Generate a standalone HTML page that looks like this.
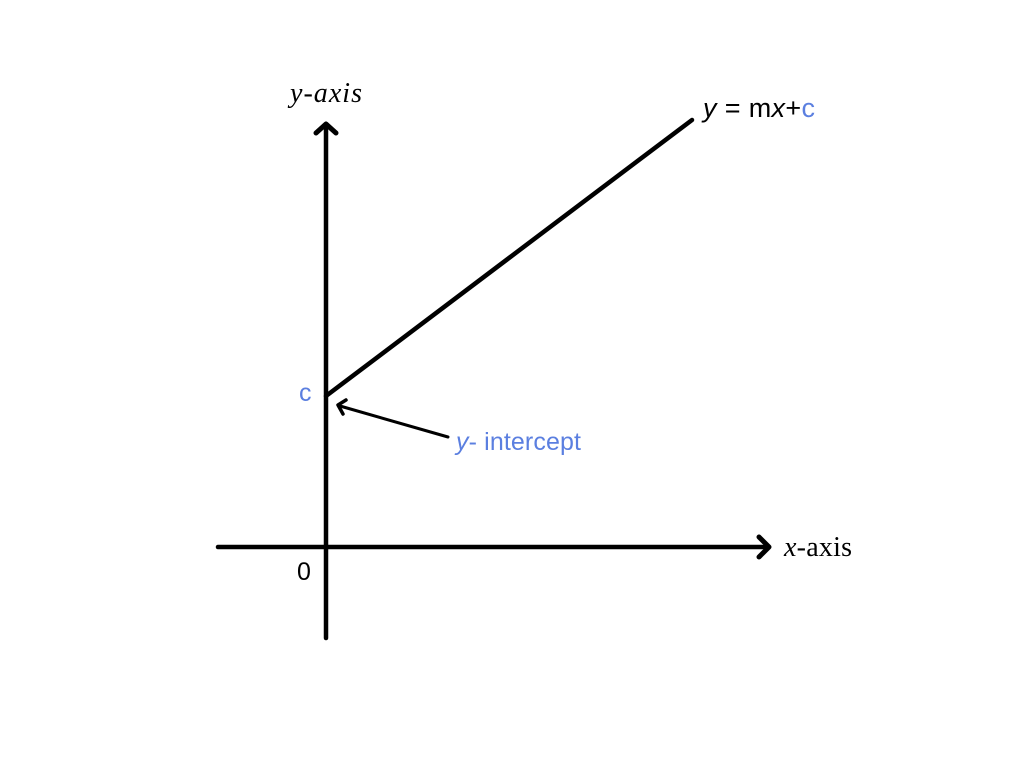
<!DOCTYPE html>
<html><head><meta charset="utf-8"><style>html,body{margin:0;padding:0;background:#fff;}</style></head>
<body>
<svg width="1024" height="756" xmlns="http://www.w3.org/2000/svg">
<rect width="1024" height="756" fill="#fff"/>
<g stroke="#000" stroke-width="4.5" fill="none" stroke-linecap="round" stroke-linejoin="round">
<line x1="326" y1="126" x2="326" y2="638"/>
<polyline points="316,133 326,124 336,133" stroke-width="5"/>
<line x1="218" y1="547" x2="768" y2="547"/>
<polyline points="759,537 769,547 759,557" stroke-width="5"/>
<line x1="326" y1="396" x2="692" y2="120"/>
</g>
<g stroke="#000" stroke-width="3" fill="none" stroke-linecap="round" stroke-linejoin="round">
<line x1="448" y1="437" x2="340" y2="406"/>
<polyline points="343,414 338,405 346,400" stroke-width="3.5"/>
</g>
<text x="290" y="102" font-family="Liberation Serif, serif" font-style="italic" font-size="28" textLength="72">y-axis</text>
<text x="703" y="117" font-family="Liberation Sans, sans-serif" font-size="27" textLength="112"><tspan font-style="italic">y</tspan> = m<tspan font-style="italic">x</tspan>+<tspan fill="#5b7fe0">c</tspan></text>
<text x="299" y="401" font-family="Liberation Sans, sans-serif" font-size="25" fill="#5b7fe0">c</text>
<text x="456" y="450" font-family="Liberation Sans, sans-serif" font-size="25" fill="#5b7fe0" textLength="125"><tspan font-style="italic">y</tspan>- intercept</text>
<text x="297" y="580" font-family="Liberation Sans, sans-serif" font-size="25">0</text>
<text x="784" y="556" font-family="Liberation Serif, serif" font-size="28" textLength="68"><tspan font-style="italic">x</tspan>-axis</text>
</svg>
</body></html>
